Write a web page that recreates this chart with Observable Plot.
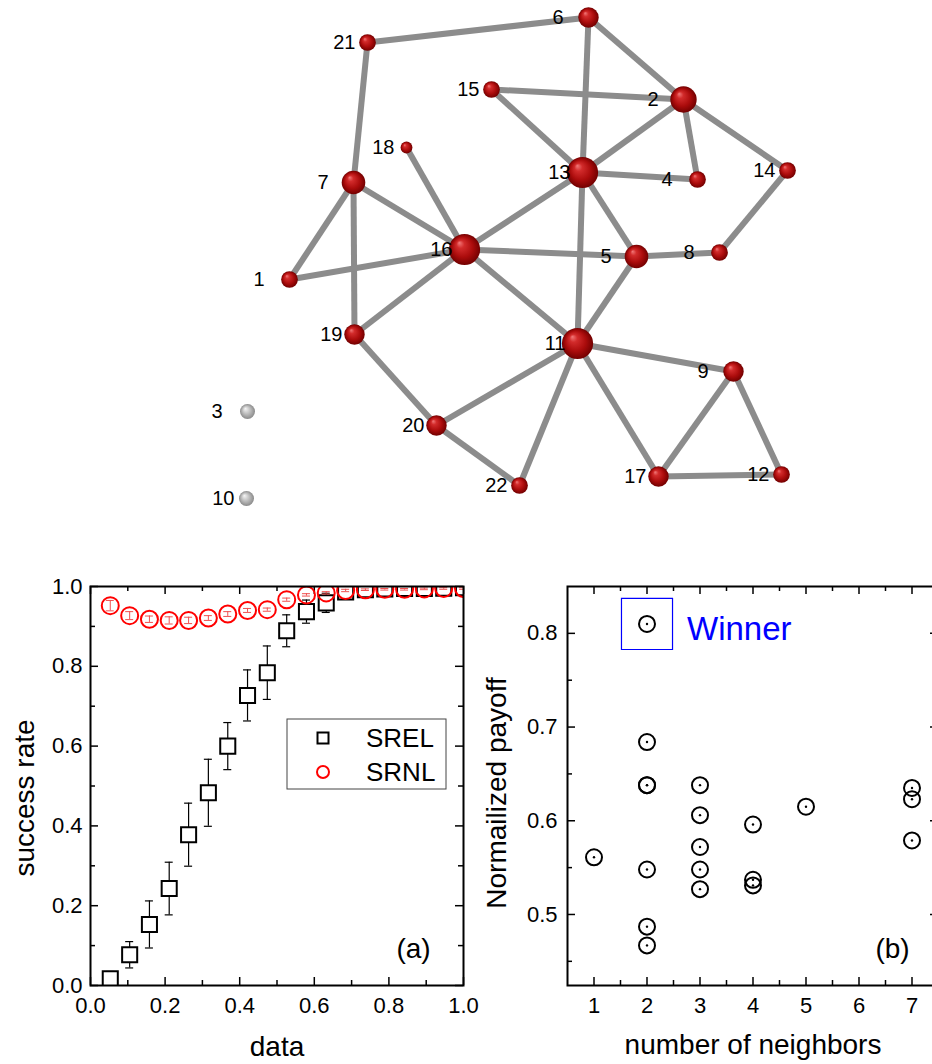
<!DOCTYPE html>
<html><head><meta charset="utf-8">
<script src="https://cdn.jsdelivr.net/npm/d3@7"></script>
<script src="https://cdn.jsdelivr.net/npm/@observablehq/plot@0.6"></script>
<style>
html,body{margin:0;padding:0;background:#fff;}
#fig{position:relative;width:932px;height:1064px;overflow:hidden;font-family:"Liberation Sans",Arial,sans-serif;}
#fig svg{position:absolute;}
</style></head><body><div id="fig"></div>
<script>
// ---------------- network (layout coordinates) ----------------
const nodeIds = [1,2,3,4,5,6,7,8,9,10,11,12,13,14,15,16,17,18,19,20,21,22];
const nodeX   = [289,683,247,697,636,588,353,719,733,246,577,781,582,787,491,464,658,406,354,436,367,519];
const nodeY   = [279, 99,411,179,256, 17,182,252,371,498,343,474,172,170, 89,249,476,147,334,425, 42,485];
const edgeFrom = [21,21,6, 6, 15,15,2, 2, 2, 13,13,13,13,14,8,5, 5, 18,7, 7,7, 1, 19,19,16,11,11,11,11,20,9, 9, 17];
const edgeTo   = [6, 7, 13,2, 2, 13,13,4, 14,4, 16,5, 11,8, 5,16,11,16,16,1,19,16,16,20,11,20,22,9, 17,22,17,12,12];

// ---------------- panel (a) ----------------
const dataX   = [0.053,0.105,0.158,0.211,0.263,0.316,0.368,0.421,0.474,0.526,0.579,0.632,0.684,0.737,0.789,0.842,0.895,0.947,1.000];
const srel    = [0.017,0.077,0.153,0.243,0.378,0.483,0.600,0.727,0.784,0.889,0.937,0.959,0.986,0.992,0.994,0.995,0.995,0.996,0.997];
const srelErr = [0.018,0.033,0.059,0.066,0.079,0.084,0.059,0.064,0.067,0.040,0.029,0.024,0.010,0.005,0.004,0.003,0.003,0.002,0.002];
const srnl    = [0.952,0.927,0.918,0.915,0.915,0.921,0.931,0.940,0.942,0.967,0.979,0.984,0.990,0.992,0.993,0.993,0.994,0.995,0.995];
const srnlErr = [0.013,0.010,0.008,0.009,0.008,0.006,0.006,0.005,0.004,0.004,0.003,0.003,0.003,0.002,0.002,0.002,0.002,0.002,0.002];
const aMajorX = [0,0.2,0.4,0.6,0.8,1.0];
const aMinorX = [0.1,0.3,0.5,0.7,0.9];
const aMajorY = [0,0.2,0.4,0.6,0.8,1.0];
const aMinorY = [0.1,0.3,0.5,0.7,0.9];
const seriesNames = ["SREL","SRNL"];

// ---------------- panel (b) ----------------
const neighbors = [2,2,2,2,2,2,2,1,3,3,3,3,3,4,4,4,5,7,7,7];
const payoff    = [0.810,0.684,0.638,0.638,0.548,0.487,0.467,0.561,0.638,0.606,0.572,0.548,0.527,0.596,0.537,0.531,0.615,0.635,0.623,0.579];
const bMajorX = [1,2,3,4,5,6,7];
const bMinorX = [1.5,2.5,3.5,4.5,5.5,6.5];
const bMajorY = [0.5,0.6,0.7,0.8];
const bMinorY = [0.45,0.55,0.65,0.75];

// =====================================================
const FONT = "'Liberation Sans', Arial, sans-serif";
const fig = document.getElementById("fig");
function place(svg, left, top){ svg.style.left = left+"px"; svg.style.top = top+"px"; fig.appendChild(svg); }
const baseStyle = {fontFamily: FONT, background: "transparent", overflow: "visible", color: "black"};

// ---------- network ----------
const pos = new Map(nodeIds.map((id,i)=>[id,{x:nodeX[i], y:nodeY[i]}]));
const degree = new Map(nodeIds.map(id=>[id,0]));
edgeFrom.forEach((a,i)=>{ degree.set(a, degree.get(a)+1); degree.set(edgeTo[i], degree.get(edgeTo[i])+1); });
const nodes = nodeIds.map((id,i)=>({id, x:nodeX[i], y:nodeY[i], deg:degree.get(id)}));
const edges = edgeFrom.map((a,i)=>({a, b:edgeTo[i]}));

const net = Plot.plot({
  width: 932, height: 540, margin: 0,
  x: {domain:[0,932], axis:null},
  y: {domain:[0,540], reverse:true, axis:null},
  r: {type:"sqrt", domain:[0,7], range:[0,15.6]},
  style: baseStyle,
  marks: [
    Plot.link(edges, {x1:d=>pos.get(d.a).x, y1:d=>pos.get(d.a).y, x2:d=>pos.get(d.b).x, y2:d=>pos.get(d.b).y,
      stroke:"#8c8c8c", strokeWidth:6}),
    Plot.dot(nodes.filter(d=>d.deg>0), {x:"x", y:"y", r:"deg", fill:"url(#ballRed)", stroke:"none"}),
    Plot.dot(nodes.filter(d=>d.deg===0), {x:"x", y:"y", r:7.5, fill:"url(#ballGrey)", stroke:"none"}),
    Plot.text(nodes.filter(d=>String(d.id).length===1), {x:"x", y:"y", text:d=>String(d.id), textAnchor:"end", dx:-25, fontSize:20, fill:"black"}),
    Plot.text(nodes.filter(d=>String(d.id).length===2), {x:"x", y:"y", text:d=>String(d.id), textAnchor:"end", dx:-12, fontSize:20, fill:"black"})
  ]
});
d3.select(net).insert("defs", ":first-child").html(`
  <radialGradient id="ballRed" cx="50%" cy="50%" r="50%" fx="33%" fy="28%">
    <stop offset="0%" stop-color="#f27a7a"/>
    <stop offset="25%" stop-color="#d22b2b"/>
    <stop offset="65%" stop-color="#ab0c0c"/>
    <stop offset="100%" stop-color="#720000"/>
  </radialGradient>
  <radialGradient id="ballGrey" cx="50%" cy="50%" r="50%" fx="35%" fy="30%">
    <stop offset="0%" stop-color="#f6f6f6"/>
    <stop offset="45%" stop-color="#c6c6c6"/>
    <stop offset="100%" stop-color="#8a8a8a"/>
  </radialGradient>`);
place(net, 0, 0);

// ---------- frame ticks helper ----------
function frameTicks(xMaj, xMin, yMaj, yMin, FW, FH){
  const L = 8, S = 5, o = {stroke:"black", strokeWidth:1.5};
  return [
    Plot.tickX(xMaj, {x:d=>d, insetTop:FH-L, ...o}),
    Plot.tickX(xMaj, {x:d=>d, insetBottom:FH-L, ...o}),
    Plot.tickX(xMin, {x:d=>d, insetTop:FH-S, ...o}),
    Plot.tickX(xMin, {x:d=>d, insetBottom:FH-S, ...o}),
    Plot.tickY(yMaj, {y:d=>d, insetRight:FW-L, ...o}),
    Plot.tickY(yMaj, {y:d=>d, insetLeft:FW-L, ...o}),
    Plot.tickY(yMin, {y:d=>d, insetRight:FW-S, ...o}),
    Plot.tickY(yMin, {y:d=>d, insetLeft:FW-S, ...o})
  ];
}

// ---------- panel (a) ----------
const aRows = dataX.map((x,i)=>({x, srel:srel[i], se:srelErr[i], srnl:srnl[i], ne:srnlErr[i]}));
const fmt1 = d3.format(".1f");
const pa = Plot.plot({
  width: 470, height: 504, marginLeft: 90, marginRight: 7, marginTop: 26, marginBottom: 79,
  x: {domain:[0,1]}, y: {domain:[0,1]},
  style: {...baseStyle, fontSize:"22px"},
  marks: [
    Plot.axisX({ticks:aMajorX, tickSize:0, tickPadding:12, tickFormat:fmt1, label:null, fontSize:22}),
    Plot.axisY({ticks:aMajorY, tickSize:0, tickPadding:8, tickFormat:fmt1, label:null, fontSize:22}),
    ...frameTicks(aMajorX, aMinorX, aMajorY, aMinorY, 373, 399),
    // SREL error bars + squares
    Plot.ruleX(aRows, {x:"x", y1:d=>d.srel-d.se, y2:d=>d.srel+d.se, stroke:"black", strokeWidth:1.2, clip:"frame"}),
    Plot.ruleY(aRows, {y:d=>d.srel+d.se, x1:"x", x2:"x", insetLeft:-4, insetRight:-4, stroke:"black", strokeWidth:1.2, clip:"frame"}),
    Plot.ruleY(aRows, {y:d=>d.srel-d.se, x1:"x", x2:"x", insetLeft:-4, insetRight:-4, stroke:"black", strokeWidth:1.2, clip:"frame"}),
    Plot.dot(aRows, {x:"x", y:"srel", symbol:"square", r:8.5, stroke:"black", strokeWidth:2, fill:"white", clip:"frame"}),
    // SRNL error bars + circles
    Plot.ruleX(aRows, {x:"x", y1:d=>d.srnl-d.ne, y2:d=>d.srnl+d.ne, stroke:"#f05050", strokeWidth:1, clip:"frame"}),
    Plot.ruleY(aRows, {y:d=>d.srnl+d.ne, x1:"x", x2:"x", insetLeft:-4, insetRight:-4, stroke:"#f05050", strokeWidth:1, clip:"frame"}),
    Plot.ruleY(aRows, {y:d=>d.srnl-d.ne, x1:"x", x2:"x", insetLeft:-4, insetRight:-4, stroke:"#f05050", strokeWidth:1, clip:"frame"}),
    Plot.dot(aRows, {x:"x", y:"srnl", r:8.5, stroke:"red", strokeWidth:2, fill:"none", clip:"frame"}),
    Plot.frame({stroke:"black", strokeWidth:2}),
    Plot.text(["success rate"], {frameAnchor:"left", text:d=>d, rotate:-90, textAnchor:"middle", lineAnchor:"bottom", dx:-57, dy:12, fontSize:28}),
    Plot.text(["data"], {frameAnchor:"bottom", text:d=>d, textAnchor:"middle", lineAnchor:"bottom", dy:70, fontSize:28}),
    Plot.text(["(a)"], {frameAnchor:"bottom-right", text:d=>d, textAnchor:"middle", lineAnchor:"bottom", dx:-50, dy:-28, fontSize:28})
  ]
});
// in-plot legend
{
  const g = d3.select(pa).append("g").attr("font-family", FONT).attr("text-anchor", "start");
  g.append("rect").attr("x",287).attr("y",159).attr("width",159).attr("height",70)
    .attr("fill","white").attr("stroke","#444").attr("stroke-width",1);
  g.append("rect").attr("x",317.5).attr("y",172.5).attr("width",11).attr("height",11)
    .attr("fill","none").attr("stroke","black").attr("stroke-width",2);
  g.append("circle").attr("cx",323).attr("cy",212).attr("r",6)
    .attr("fill","none").attr("stroke","red").attr("stroke-width",2);
  g.append("text").attr("x",366).attr("y",187).attr("font-size",26).attr("text-anchor","start").text(seriesNames[0]);
  g.append("text").attr("x",366).attr("y",221).attr("font-size",26).attr("text-anchor","start").text(seriesNames[1]);
}
place(pa, 0, 560);

// ---------- panel (b) ----------
const bRows = neighbors.map((n,i)=>({n, p:payoff[i]}));
const winner = bRows.reduce((a,b)=> b.p>a.p ? b : a);
const pb = Plot.plot({
  width: 470, height: 504, marginLeft: 97, marginRight: 2, marginTop: 26, marginBottom: 79,
  x: {domain:[0.5,7.5]}, y: {domain:[0.4242,0.85]},
  style: {...baseStyle, fontSize:"22px"},
  marks: [
    Plot.axisX({ticks:bMajorX, tickSize:0, tickPadding:12, tickFormat:d=>String(d), label:null, fontSize:22}),
    Plot.axisY({ticks:bMajorY, tickSize:0, tickPadding:10, tickFormat:fmt1, label:null, fontSize:22}),
    ...frameTicks(bMajorX, bMinorX, bMajorY, bMinorY, 371, 399),
    Plot.dot([winner], {x:"n", y:"p", symbol:"square", r:28.8, stroke:"blue", strokeWidth:1.2, fill:"none"}),
    Plot.text([winner], {x:"n", y:"p", text:()=>"Winner", textAnchor:"start", lineAnchor:"bottom", dx:40, dy:16, fontSize:33, fill:"blue"}),
    Plot.dot(bRows, {x:"n", y:"p", r:8, stroke:"black", strokeWidth:2, fill:"none"}),
    Plot.dot(bRows, {x:"n", y:"p", r:1.2, fill:"black", stroke:"none"}),
    Plot.frame({stroke:"black", strokeWidth:2}),
    Plot.text(["Normailized payoff"], {frameAnchor:"left", text:d=>d, rotate:-90, textAnchor:"middle", lineAnchor:"bottom", dx:-62, dy:7, fontSize:28}),
    Plot.text(["number of neighbors"], {frameAnchor:"bottom", text:d=>d, textAnchor:"middle", lineAnchor:"bottom", dy:68, fontSize:28}),
    Plot.text(["(b)"], {frameAnchor:"bottom-right", text:d=>d, textAnchor:"middle", lineAnchor:"bottom", dx:-46, dy:-28, fontSize:28})
  ]
});
place(pb, 470, 560);
</script></body></html>
